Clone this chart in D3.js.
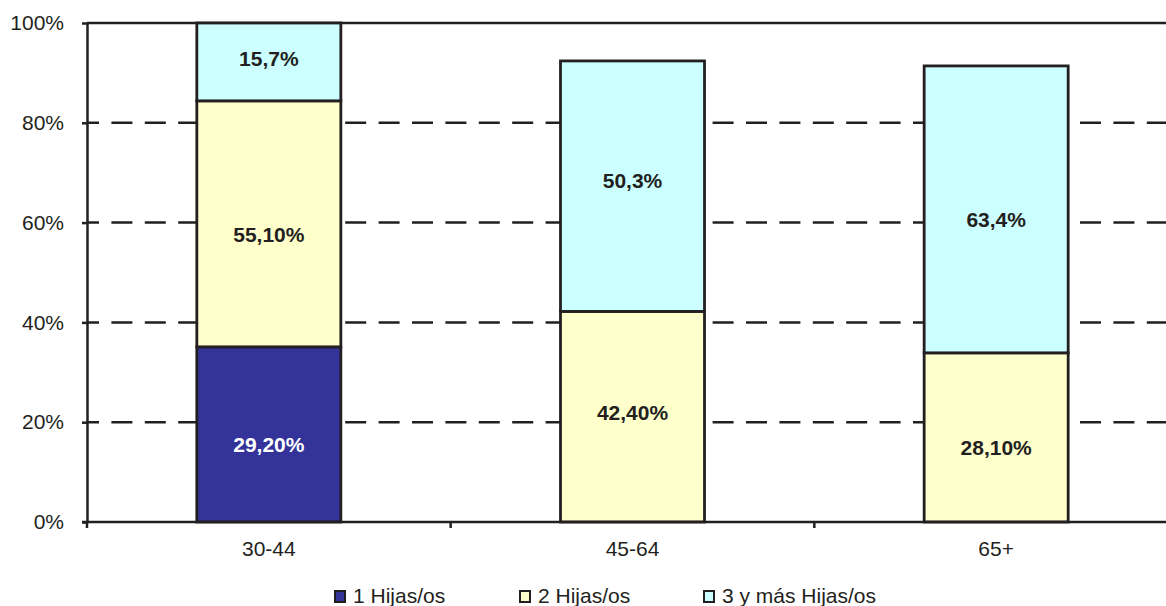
<!DOCTYPE html>
<html>
<head>
<meta charset="utf-8">
<script src="https://cdn.jsdelivr.net/npm/d3@7"></script>
<style>
  body { margin: 0; background: #fff; }
  svg { display: block; font-family: 'Liberation Sans', Arial, sans-serif; }
</style>
</head>
<body>
<svg id="chart" width="1166" height="606"></svg>
<script>
const categories = ['30-44', '45-64', '65+']
const seriesNames = ['1 Hijas/os', '2 Hijas/os', '3 y más Hijas/os']
const seriesColors = ['#333399', '#ffffcc', '#ccffff']
// bar heights as drawn in the picture (percent)
const oneChild = [35.1, 0, 0]
const twoChildren = [49.3, 42.2, 33.9]
const threePlus = [15.6, 50.2, 57.5]
// printed labels
const oneLabels = ['29,20%', '', '']
const twoLabels = ['55,10%', '42,40%', '28,10%']
const threeLabels = ['15,7%', '50,3%', '63,4%']
const oneLabelVals = [29.2, 0, 0]
const twoLabelVals = [55.1, 42.4, 28.1]
const threeLabelVals = [15.7, 50.3, 63.4]
const yTicks = [0, 20, 40, 60, 80, 100]

const svg = d3.select('#chart')
const ink = '#231f20'
const fontSize = 21
const plotLeft = 87
const plotRight = 1178
const plotTop = 23
const plotBottom = 522

const xScale = d3.scaleBand().domain(categories).range([plotLeft, plotRight])
const yScale = d3.scaleLinear().domain([0, 100]).range([plotBottom, plotTop])
const barW = xScale.bandwidth() * 0.396

// gridlines
svg.append('g').selectAll('line')
  .data(yTicks.filter(d => d > 0 && d < 100))
  .join('line')
  .attr('x1', plotLeft).attr('x2', 1166)
  .attr('y1', d => yScale(d)).attr('y2', d => yScale(d))
  .attr('stroke', ink).attr('stroke-width', 2.5)
  .attr('stroke-dasharray', '21,12.4')
  .attr('stroke-dashoffset', 9)

svg.append('line')
  .attr('x1', plotLeft).attr('x2', 1166)
  .attr('y1', yScale(100)).attr('y2', yScale(100))
  .attr('stroke', ink).attr('stroke-width', 2.5)

// bars
const series = [oneChild, twoChildren, threePlus]
categories.forEach((c, i) => {
  let base = 0
  series.forEach((s, k) => {
    const v = s[i]
    if (v > 0) {
      svg.append('rect')
        .attr('x', xScale(c) + (xScale.bandwidth() - barW) / 2)
        .attr('y', yScale(base + v))
        .attr('width', barW)
        .attr('height', yScale(base) - yScale(base + v))
        .attr('fill', seriesColors[k])
        .attr('stroke', ink).attr('stroke-width', 2.8)
    }
    base += v
  })
})

// value labels, placed from the printed values
const labelSets = [[oneLabels, oneLabelVals], [twoLabels, twoLabelVals], [threeLabels, threeLabelVals]]
categories.forEach((c, i) => {
  let base = 0
  labelSets.forEach(([txt, vals], k) => {
    const v = vals[i]
    if (v > 0) {
      svg.append('text')
        .attr('x', xScale(c) + xScale.bandwidth() / 2)
        .attr('y', yScale(base + v / 2) - 4)
        .attr('dy', '0.35em')
        .attr('text-anchor', 'middle')
        .attr('font-size', fontSize)
        .attr('font-weight', 'bold')
        .attr('fill', k === 0 ? '#fff' : ink)
        .text(txt[i])
    }
    base += v
  })
})

// y axis
const yAxis = d3.axisLeft(yScale).tickValues(yTicks).tickSize(5).tickSizeOuter(0)
  .tickFormat(d => d + '%')
svg.append('g').attr('transform', `translate(${plotLeft},0)`).call(yAxis)
  .call(g => {
    g.select('.domain').attr('stroke', ink).attr('stroke-width', 2.5)
    g.selectAll('.tick line').attr('stroke', ink).attr('stroke-width', 2.5)
    g.selectAll('.tick text').attr('font-size', fontSize).attr('fill', ink)
      .attr('font-family', 'Liberation Sans, Arial, sans-serif').attr('x', -23)
  })

// x axis
svg.append('line')
  .attr('x1', plotLeft - 5).attr('x2', 1166)
  .attr('y1', plotBottom).attr('y2', plotBottom)
  .attr('stroke', ink).attr('stroke-width', 2.5)
svg.append('g').selectAll('line')
  .data(categories)
  .join('line')
  .attr('x1', d => xScale(d)).attr('x2', d => xScale(d))
  .attr('y1', plotBottom).attr('y2', plotBottom + 6)
  .attr('stroke', ink).attr('stroke-width', 2.5)
svg.append('g').selectAll('text')
  .data(categories)
  .join('text')
  .attr('x', d => xScale(d) + xScale.bandwidth() / 2)
  .attr('y', 549).attr('dy', '0.35em')
  .attr('text-anchor', 'middle')
  .attr('font-size', fontSize).attr('fill', ink)
  .text(d => d)

// legend
const legendX = [334, 519, 703]
const legend = svg.append('g').selectAll('g')
  .data(seriesNames)
  .join('g')
  .attr('transform', (d, i) => `translate(${legendX[i]},596)`)
legend.append('rect')
  .attr('x', 1).attr('y', -5).attr('width', 10).attr('height', 11)
  .attr('fill', (d, i) => seriesColors[i])
  .attr('stroke', ink).attr('stroke-width', 2)
legend.append('text')
  .attr('x', 19).attr('dy', '0.35em')
  .attr('font-size', fontSize).attr('fill', ink)
  .text(d => d)
</script>
</body>
</html>
